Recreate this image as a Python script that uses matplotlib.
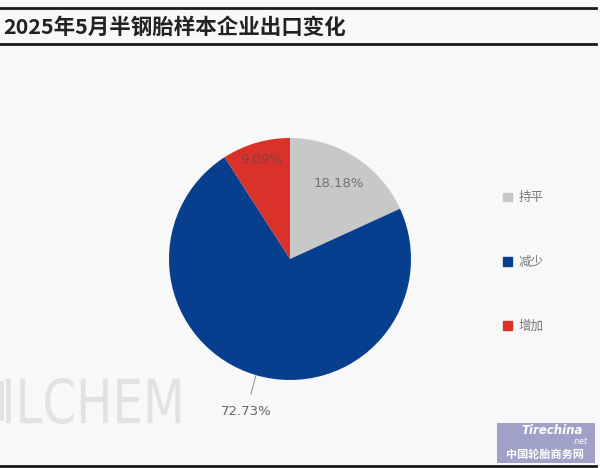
import matplotlib
matplotlib.use("Agg")
import matplotlib.pyplot as plt
from matplotlib.patches import Rectangle, PathPatch
from matplotlib.lines import Line2D
from matplotlib.textpath import TextPath
from matplotlib.font_manager import FontProperties
from matplotlib.transforms import Affine2D, IdentityTransform
import numpy as np

plt.rcParams['font.family'] = ['Noto Sans CJK SC', 'DejaVu Sans']

# data
title = "2025年5月半钢胎样本企业出口变化"
categories = ["持平", "减少", "增加"]
shares = [18.18, 72.73, 9.09]
colors = ["#c8c8c8", "#073f8e", "#d8322a"]

W, H = 600, 468
fig = plt.figure(figsize=(W / 100, H / 100), dpi=100)
fig.patch.set_facecolor("#f8f8f8")

def fx(px):
    return px / W

def fy(py):
    return 1 - py / H

# title band and rules
fig.add_artist(Line2D([fx(0), fx(596)], [fy(7.5), fy(7.5)], color="#1a1a1a", lw=2.0))
fig.add_artist(Line2D([fx(0), fx(596)], [fy(44), fy(44)], color="#1a1a1a", lw=2.0))
fig.add_artist(Line2D([fx(0), fx(596)], [fy(466), fy(466)], color="#1a1a1a", lw=2.0))
fig.text(fx(3), fy(27), title, fontsize=15.5, fontweight="bold", color="#222222",
         ha="left", va="center")

# watermark, squeezed into its box (left part cut off by the image edge)
tp = TextPath((0, 0), "ILCHEM", size=60, prop=FontProperties(family="DejaVu Sans"))
ext = tp.get_extents()
x0, x1, top, bot = 6, 180, 378, 424
sx = (x1 - x0) / ext.width
sy = (bot - top) / ext.height
tr = Affine2D().translate(-ext.x0, -ext.y0).scale(sx, sy).translate(x0, H - bot)
fig.add_artist(PathPatch(tp, transform=tr + IdentityTransform(), facecolor="#e2e2e2",
                         edgecolor="none"))
fig.add_artist(Rectangle((0, fy(421)), fx(3.5), 40 / H, facecolor="#e2e2e2",
                         edgecolor="none", transform=fig.transFigure))

# pie
cx, cy, r = 290, 259, 121
ax = fig.add_axes([fx(cx - r), fy(cy + r), fx(2 * r), 2 * r / H])
wedges, _ = ax.pie(shares, colors=colors, startangle=90, counterclock=False,
                   wedgeprops=dict(linewidth=0))
ax.set_xlim(-1, 1)
ax.set_ylim(-1, 1)
ax.set_aspect("equal")
ax.axis("off")

label_dist = [0.74, 0.0, 0.86]
label_colors = ["#707070", "#666666", "#8a3b35"]
for i, w in enumerate(wedges):
    mid = np.deg2rad((w.theta1 + w.theta2) / 2)
    txt = f"{shares[i]:.2f}%"
    if i == 1:
        p0 = (np.cos(mid), np.sin(mid))
        ax.annotate(txt, xy=p0, xytext=(-0.36, -1.26),
                    textcoords="data", ha="center", va="center", fontsize=9.5,
                    color=label_colors[i], family="DejaVu Sans",
                    arrowprops=dict(arrowstyle="-", color="#999999", lw=0.8,
                                    shrinkA=6, shrinkB=0),
                    annotation_clip=False)
    else:
        d = label_dist[i]
        ax.text(d * np.cos(mid), d * np.sin(mid), txt, ha="center", va="center",
                fontsize=9.5, color=label_colors[i], family="DejaVu Sans")

# legend
handles = [Rectangle((0, 0), 1, 1, color=c) for c in colors]
fig.legend(handles, categories, loc="upper left",
           bbox_to_anchor=(fx(492), fy(180)), frameon=False, fontsize=9,
           labelcolor="#777777", handlelength=0.7, handleheight=0.7,
           handletextpad=0.5, labelspacing=4.1)

# logo box
fig.add_artist(Rectangle((fx(497), fy(463)), fx(98), 40 / H, facecolor="#9fa1c9",
                         edgecolor="none", transform=fig.transFigure))
fig.text(fx(552), fy(430), "Tirechina", fontsize=8.5, fontweight="bold", style="italic",
         color="white", ha="center", va="center", family="DejaVu Sans")
fig.text(fx(580), fy(441.5), ".net", fontsize=5.5, style="italic", color="white",
         ha="center", va="center", family="DejaVu Sans")
fig.text(fx(545), fy(454), "中国轮胎商务网", fontsize=8, fontweight="bold",
         color="white", ha="center", va="center")

fig.savefig("out.png", dpi=100, facecolor=fig.get_facecolor())
